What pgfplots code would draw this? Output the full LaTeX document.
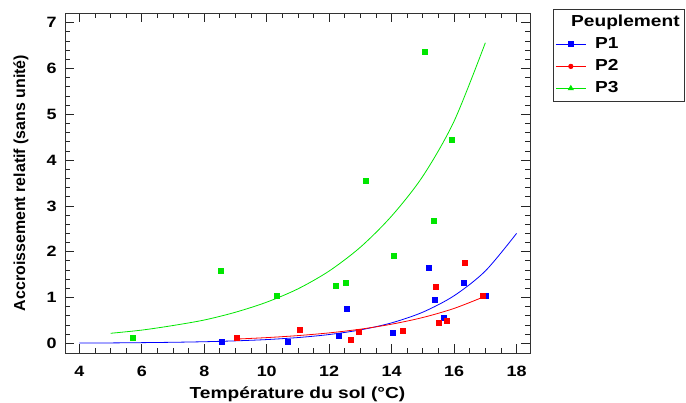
\documentclass[border=0pt]{standalone}
\usepackage{pgfplots}
\pgfplotsset{compat=1.18}
\usepackage{fontspec}
\setmainfont{Liberation Sans}[FakeStretch=1.2]
\newfontfamily\ylabfont{Liberation Sans}
\definecolor{pblue}{RGB}{0,0,255}
\definecolor{pred}{RGB}{255,0,0}
\definecolor{pgreen}{RGB}{0,230,0}
\begin{document}
\begin{tikzpicture}
\path[use as bounding box] (0bp,0bp) rectangle (686bp,403bp);
\begin{axis}[
  at={(65bp,50bp)}, anchor=south west,
  scale only axis, width=465bp, height=340bp,
  xmin=3.54, xmax=18.43, ymin=-0.21, ymax=7.21,
  xtick={4,6,...,18}, ytick={0,1,...,7},
  minor x tick num=3, minor y tick num=4,
  tick align=inside, major tick length=9bp, minor tick length=5bp,
  axis line style={line width=1bp, black!80},
  every tick/.style={black!85, line width=0.8bp},
  /pgf/number format/assume math mode=true,
  ticklabel style={font=\bfseries\fontsize{15}{15}\selectfont},
  xticklabel style={anchor=base, yshift=-23bp},
  yticklabel style={anchor=east, xshift=-5bp},
  xlabel={Température du sol (°C)},
  xlabel style={at={(axis description cs:0.5,-0.1338)}, anchor=base, font=\bfseries\fontsize{16}{16}\selectfont},
  ylabel={Accroissement relatif (sans unité)},
  ylabel style={at={(axis description cs:-0.0946,0.5)}, anchor=center, font=\ylabfont\bfseries\fontsize{16}{16}\selectfont},
  legend style={at={(axis description cs:1.0495,1.0118)}, anchor=north west,
    draw=black!80, line width=0.8bp, inner sep=2bp,
    font=\bfseries\fontsize{16}{16}\selectfont,
    nodes={text height=12bp, text depth=4bp, inner sep=3bp},
    row sep=0bp, column sep=6bp},
  legend cell align=left,
  legend image code/.code={\draw[mark repeat=2,mark phase=2,#1] plot coordinates {(0bp,0bp) (15bp,0bp) (30bp,0bp)};},
]
\addlegendimage{empty legend}
\addlegendentry{\hspace{-24bp}Peuplement}
\addlegendimage{pblue, line width=0.8bp, mark=square*, mark size=2.5bp}
\addlegendentry{P1}
\addlegendimage{pred, line width=0.8bp, mark=*, mark size=2.2bp}
\addlegendentry{P2}
\addlegendimage{pgreen, line width=0.8bp, mark=triangle*, mark size=2.8bp}
\addlegendentry{P3}

% fitted curves
\addplot[forget plot, pgreen, line width=0.8bp, smooth] coordinates {
(5,0.22) (6,0.29) (7,0.39) (8,0.51) (9,0.68) (10,0.90) (11,1.19) (12,1.58) (13,2.10) (14,2.78) (15,3.65) (16,4.85) (17,6.56)};
\addplot[forget plot, pblue, line width=0.8bp, smooth] coordinates {
(4,0.007) (5,0.010) (6,0.016) (7,0.024) (8,0.036) (9,0.055) (10,0.083) (11,0.127) (12,0.193) (13,0.294) (14,0.448) (15,0.682) (16,1.04) (17,1.58) (18,2.40)};
\addplot[forget plot, pred, line width=0.8bp, smooth] coordinates {
(9,0.093) (10,0.126) (11,0.170) (12,0.229) (13,0.310) (14,0.419) (15,0.565) (16,0.763) (17,1.03)};

% observations
\addplot[forget plot, only marks, mark=square*, mark size=2.5bp, pgreen] coordinates {
(5.71,0.12) (8.54,1.59) (10.32,1.03) (12.20,1.26) (12.53,1.32) (13.18,3.56) (14.06,1.92) (15.06,6.36) (15.35,2.68) (15.91,4.45)};
\addplot[forget plot, only marks, mark=square*, mark size=2.5bp, pblue] coordinates {
(8.57,0.04) (10.68,0.04) (12.32,0.17) (12.56,0.76) (14.03,0.23) (15.19,1.65) (15.39,0.96) (15.68,0.57) (16.30,1.32) (17.01,1.05)};
\addplot[forget plot, only marks, mark=square*, mark size=2.5bp, pred] coordinates {
(9.03,0.12) (11.04,0.29) (12.68,0.08) (12.95,0.25) (14.36,0.27) (15.41,1.24) (15.50,0.46) (15.75,0.50) (16.34,1.76) (16.92,1.05)};
\end{axis}
\end{tikzpicture}
\end{document}
